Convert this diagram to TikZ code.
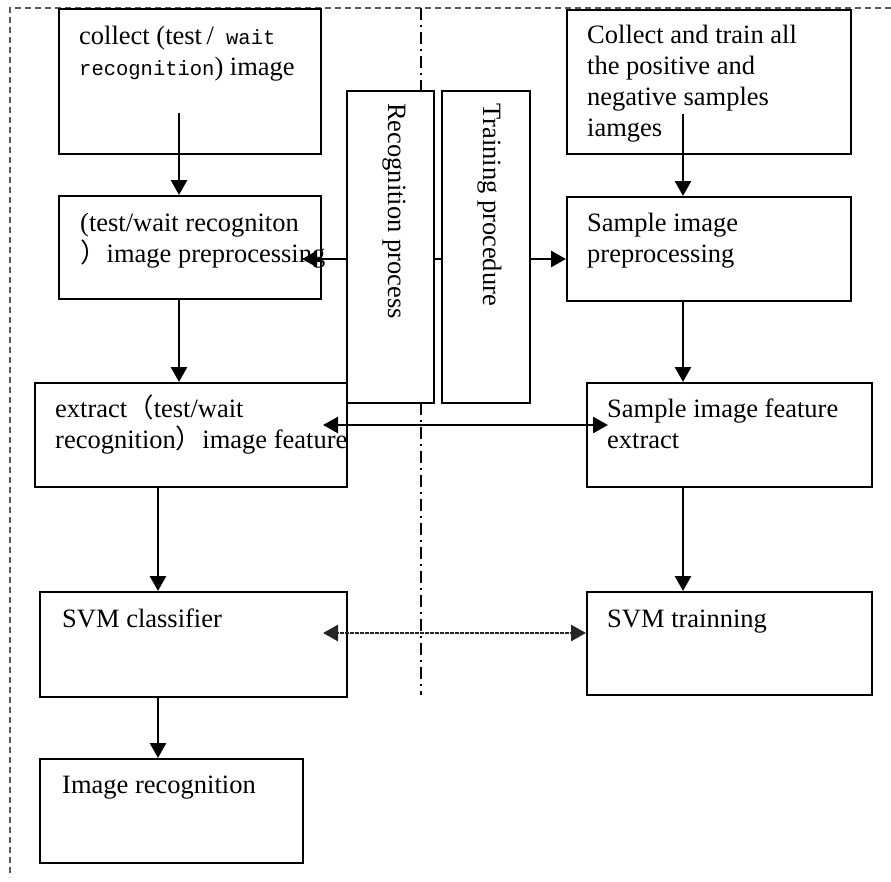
\documentclass[tikz,border=0pt]{standalone}
\usepackage{fontspec}
\setmainfont{Liberation Serif}
\newfontfamily\cjkfont{Noto Sans CJK SC}
\newfontfamily\monofont{Liberation Mono}
\usetikzlibrary{arrows.meta}
\newcommand{\tl}[1]{\begin{tabular}[t]{@{}l@{}}#1\end{tabular}}
\newcommand{\cj}[1]{{\cjkfont #1}}
\newcommand{\mn}[1]{{\monofont\fontsize{20.5}{31}\selectfont #1}}
\tikzset{
  boxst/.style={draw, line width=2pt, fill=white, inner sep=0pt},
  txt/.style={anchor=base west, inner sep=0pt, font=\fontsize{26.5}{31}\selectfont},
  vtxt/.style={anchor=base west, inner sep=0pt, rotate=-90, font=\fontsize{26.5}{31}\selectfont},
  arr/.style={line width=2.8pt, -{Triangle[length=15pt,width=16pt]}},
  darr/.style={line width=2.6pt, {Triangle[length=15pt,width=16pt]}-{Triangle[length=15pt,width=16pt]}},
  conn/.style={line width=2.8pt},
  frame/.style={draw=black!65, line width=1.3pt, dash pattern=on 6pt off 4pt},
  dashdot/.style={draw=black, line width=1.6pt, dash pattern=on 12pt off 5pt on 2pt off 5pt}
}
\begin{document}
\begin{tikzpicture}[x=1pt,y=-1pt]
\useasboundingbox (0,0) rectangle (891,881);
% outer frame (top and left)
\coordinate (ftl) at (10,8);
\coordinate (ftr) at (891,8);
\coordinate (fbl) at (10,877);
\draw[frame] (ftr) -- (ftl) -- (fbl);
% dash-dot divider
\coordinate (dd1) at (421,8);
\coordinate (dd2) at (421,91);
\coordinate (dd3) at (421,403);
\coordinate (dd4) at (421,695);
\draw[dashdot] (dd1) -- (dd2);
\draw[dashdot] (dd3) -- (dd4);
% boxes
\node[boxst, minimum width=262pt, minimum height=145pt] (b1) at (190,81.5) {};
\node[boxst, minimum width=262pt, minimum height=103pt] (b2) at (190,247.5) {};
\node[boxst, minimum width=87pt, minimum height=312pt] (rec) at (390.5,247) {};
\node[boxst, minimum width=88pt, minimum height=312pt] (trn) at (486,247) {};
\node[boxst, minimum width=284pt, minimum height=144pt] (r1) at (709,82) {};
\node[boxst, minimum width=284pt, minimum height=104pt] (r2) at (709,249) {};
\node[boxst, minimum width=312pt, minimum height=104pt] (b3) at (191,435) {};
\node[boxst, minimum width=285pt, minimum height=104pt] (r3) at (729.5,435) {};
\node[boxst, minimum width=307pt, minimum height=105pt] (b4) at (193.5,644.5) {};
\node[boxst, minimum width=285pt, minimum height=103pt] (r4) at (729.5,643.5) {};
\node[boxst, minimum width=263pt, minimum height=104pt] (b5) at (171.5,811) {};
% texts
\node[txt] (t1) at (79,44) {\tl{collect (test\,/\mn{ wait}\\\mn{recognition}) image}};
\node[txt] (t2) at (80,231) {\tl{(test/wait recogniton\\\cj{）}image preprocessing}};
\node[vtxt] (trec) at (388,103) {Recognition process};
\node[vtxt] (ttrn) at (483,103) {Training procedure};
\node[txt] (t3) at (587,43) {\tl{Collect and train all\\the positive and\\negative samples\\iamges}};
\node[txt] (t4) at (587,231) {\tl{Sample image\\preprocessing}};
\node[txt] (t5) at (55,417) {\tl{extract\cj{（}test/wait\\recognition\cj{）}image feature}};
\node[txt] (t6) at (607,417) {\tl{Sample image feature\\extract}};
\node[txt] (t7) at (62,627) {SVM classifier};
\node[txt] (t8) at (607,627) {SVM trainning};
\node[txt] (t9) at (62,793) {Image recognition};
% vertical arrows
\coordinate (b1s) at (179,113);
\coordinate (b3x) at (158,0);
\coordinate (r1s) at (683,114);
\draw[arr] (b1s) -- (b2.north -| b1s);
\draw[arr] (b2.south -| b1s) -- (b3.north -| b1s);
\draw[arr] (b3.south -| b3x) -- (b4.north -| b3x);
\draw[arr] (b4.south -| b3x) -- (b5.north -| b3x);
\draw[arr] (r1s) -- (r2.north -| r1s);
\draw[arr] (r2.south -| r1s) -- (r3.north -| r1s);
\draw[arr] (r3.south -| r1s) -- (r4.north -| r1s);
% horizontal links
\coordinate (lt) at (302,259);
\draw[arr] (rec.west |- lt) -- (lt);
\draw[conn] (rec.east |- lt) -- (trn.west |- lt);
\draw[arr] (trn.east |- lt) -- (r2.west |- lt);
\coordinate (fl) at (323,425);
\coordinate (fr) at (608,425);
\draw[darr] (fl) -- (fr);
\coordinate (sl) at (323,633);
\draw[darr, draw=black!85, dash pattern=on 2pt off 0.5pt] (sl) -- (r4.west |- sl);
\end{tikzpicture}
\end{document}
